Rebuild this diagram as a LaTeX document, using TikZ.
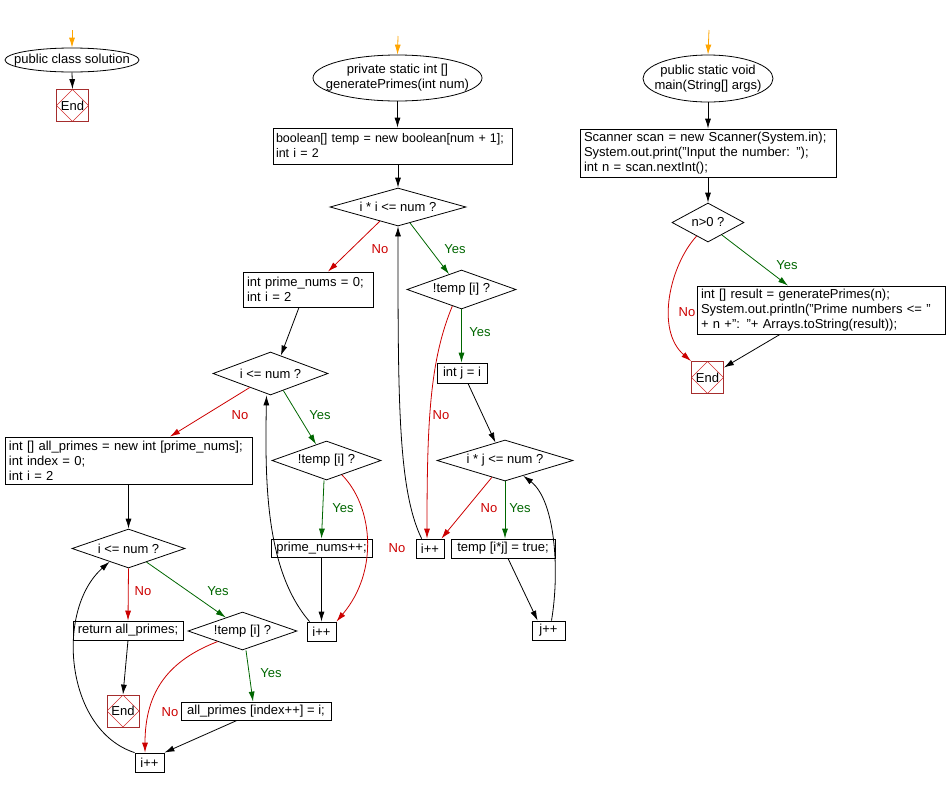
\documentclass[tikz,border=0pt]{standalone}
\usepackage{fontspec}
\setmainfont{Liberation Sans}
\usetikzlibrary{shapes.geometric,arrows.meta}
\definecolor{startorange}{RGB}{255,165,0}
\definecolor{nored}{RGB}{204,0,0}
\definecolor{yesgreen}{RGB}{0,102,0}
\definecolor{endbrown}{RGB}{165,45,45}
\definecolor{endred}{RGB}{210,45,45}
\begin{document}
\begin{tikzpicture}[x=1pt,y=-1pt,font=\fontsize{13}{15}\selectfont,
  >={Latex[length=10pt,width=6pt]},
  flow/.style={->,line width=0.8pt},
  noarrow/.style={flow,nored},
  yesarrow/.style={flow,yesgreen},
  entry/.style={flow,startorange},
  nolabel/.style={text=nored,inner sep=0pt},
  yeslabel/.style={text=yesgreen,inner sep=0pt},
  box/.style={draw,line width=0.8pt,rectangle,inner xsep=4pt,inner ysep=1pt,align=left},
  onebox/.style={draw,line width=0.8pt,rectangle,inner xsep=2pt,inner ysep=1pt},
  dec/.style={draw,line width=0.8pt,diamond,aspect=3.2,inner sep=0pt},
  method/.style={draw,line width=0.8pt,ellipse,inner xsep=-12pt,inner ysep=0pt,align=center},
  endbox/.style={draw=endbrown,line width=0.8pt,minimum size=32pt,inner sep=0pt,
    path picture={\draw[endred,line width=0.6pt] (path picture bounding box.north) -- (path picture bounding box.east)
      -- (path picture bounding box.south) -- (path picture bounding box.west) -- cycle;}}]
\useasboundingbox (0,0) rectangle (948,788);

\coordinate (s1) at (72,30);
\coordinate (s2) at (398,36);
\coordinate (s3) at (709,30);

\node[method,minimum width=134pt,minimum height=24pt] (cls) at (72,60) {public class solution};
\node[endbox] (end1) at (72.5,105.5) {End};

\node[method,minimum width=169pt,minimum height=46pt] (gen) at (397.5,78) {private static int []\\generatePrimes(int num)};
\node[box,inner xsep=3pt,text width=233pt,minimum height=36pt,font=\fontsize{12.5}{15}\selectfont] (init) at (392.5,146) {boolean[] temp = new boolean[num + 1];\\int i = 2};
\node[dec,minimum width=136pt,minimum height=38pt] (outer) at (398,207) {i * i <= num ?};
\node[box,text width=122pt,minimum height=35pt] (pinit) at (308,289.5) {int prime\_nums = 0;\\int i = 2};
\node[dec,minimum width=109pt,minimum height=39pt] (sieve) at (461.5,289.5) {!temp [i] ?};
\node[onebox,minimum width=50pt,minimum height=20pt] (jinit) at (462,373) {int j = i};
\node[dec,minimum width=115pt,minimum height=43pt] (cnt) at (270.5,373.5) {i <= num ?};
\node[dec,minimum width=109pt,minimum height=39pt] (chk) at (326.5,460.5) {!temp [i] ?};
\node[onebox,minimum width=101pt,minimum height=18pt] (pcount) at (321.5,548) {prime\_nums++;};
\node[onebox,minimum width=29pt,minimum height=19pt] (iinc2) at (321.5,631.5) {i++};
\node[dec,minimum width=136pt,minimum height=41pt] (inner) at (505,460.5) {i * j <= num ?};
\node[onebox,minimum width=28pt,minimum height=19pt] (iinc1) at (430,548.5) {i++};
\node[onebox,minimum width=104pt,minimum height=19pt] (mark) at (503,548.5) {temp [i*j] = true;};
\node[onebox,minimum width=33pt,minimum height=19pt] (jinc) at (548.5,630.5) {j++};

\node[box,text width=239pt,minimum height=47pt] (collect) at (128.5,460.5) {int [] all\_primes = new int [prime\_nums];\\int index = 0;\\int i = 2};
\node[dec,minimum width=113pt,minimum height=39pt] (loop3) at (128.5,548.5) {i <= num ?};
\node[onebox,minimum width=110pt,minimum height=19pt] (ret) at (128,630.5) {return all\_primes;};
\node[endbox] (end2) at (123,711) {End};
\node[dec,minimum width=109pt,minimum height=38pt] (chk3) at (242.5,631) {!temp [i] ?};
\node[onebox,minimum width=150pt,minimum height=18pt] (store) at (256,711) {all\_primes [index++] = i;};
\node[onebox,minimum width=29pt,minimum height=19pt] (iinc3) at (149.5,762.5) {i++};

\node[method,minimum width=130pt,minimum height=47pt] (mainm) at (708,78.5) {public static void\\main(String[] args)};
\node[box,text width=248pt,minimum height=48pt] (scan) at (708,153) {Scanner scan = new Scanner(System.in);\\System.out.print("Input the number: ");\\int n = scan.nextInt();};
\node[dec,aspect=1.8,minimum width=72pt,minimum height=39pt] (test) at (708,222.5) {n>0 ?};
\node[box,text width=240pt,minimum height=48pt] (result) at (821,310) {int [] result = generatePrimes(n);\\System.out.println("Prime numbers <= "\\+ n +": "+ Arrays.toString(result));};
\node[endbox] (end3) at (707.5,377.5) {End};

\node[nolabel] (no1) at (380,249) {No};
\node[yeslabel] (yes1) at (455,249) {Yes};
\node[yeslabel] (yes2) at (480,332) {Yes};
\node[nolabel] (no2) at (441,415) {No};
\node[nolabel] (no3) at (240,415) {No};
\node[yeslabel] (yes3) at (320,415) {Yes};
\node[nolabel] (no4) at (489,508) {No};
\node[yeslabel] (yes4) at (520,508) {Yes};
\node[yeslabel] (yes5) at (343,508) {Yes};
\node[nolabel] (no5) at (397,548) {No};
\node[nolabel] (no6) at (143,591) {No};
\node[yeslabel] (yes6) at (218,591) {Yes};
\node[yeslabel] (yes7) at (271,673) {Yes};
\node[nolabel] (no7) at (170,712) {No};
\node[yeslabel] (yes8) at (787,265) {Yes};
\node[nolabel] (no8) at (687,312) {No};

\draw[entry] (s1) -- (cls.north);
\draw[flow] (cls.south) -- (end1.north);

\draw[entry] (s2) -- (gen.north);
\draw[flow] (gen.south) -- (gen.south |- init.north);
\draw[flow] (outer.north |- init.south) -- (outer.north);
\draw[noarrow] (outer.218) -- ([xshift=20pt]pinit.north);
\draw[yesarrow] (outer.307) -- (sieve.129);
\draw[flow] ([xshift=-9pt]pinit.south) -- (cnt.60);
\draw[noarrow] (cnt.214) -- ([xshift=41.5pt]collect.north);
\draw[yesarrow] (cnt.307) -- (chk.123);
\draw[yesarrow] ([xshift=-2.5pt]chk.south) -- (pcount.north);
\draw[noarrow] (chk.317) .. controls (372,505) and (380,570) .. (iinc2.north east);
\draw[flow] (pcount.south) -- (iinc2.north);
\draw[flow] ([xshift=3pt]iinc2.north west) .. controls (265,570) and (265,480) .. ([xshift=-4pt]cnt.south);
\draw[yesarrow] (sieve.south) -- (sieve.south |- jinit.north);
\draw[noarrow] (sieve.241) .. controls (430,360) and (427,420) .. ([xshift=-3pt]iinc1.north);
\draw[flow] ([xshift=6pt]jinit.south) -- (inner.118);
\draw[noarrow] (inner.232) -- ([xshift=-3pt]iinc1.north east);
\draw[yesarrow] (inner.south) -- (inner.south |- mark.north);
\draw[flow] ([xshift=5pt]mark.south) -- ([xshift=6pt]jinc.north west);
\draw[flow] ([xshift=3pt]jinc.north) .. controls (560,570) and (555,500) .. (inner.320);
\draw[flow] ([xshift=6pt]iinc1.north west) .. controls (398,490) and (398,400) .. (outer.south);

\draw[flow] (collect.south) -- (loop3.north);
\draw[noarrow] (loop3.south) -- (ret.north);
\draw[yesarrow] (loop3.323) -- (chk3.141);
\draw[flow] (ret.south) -- (end2.north);
\draw[yesarrow] ([xshift=3.5pt]chk3.south) -- ([xshift=-3pt]store.north);
\draw[noarrow] (chk3.203) .. controls (170,660) and (145,690) .. ([xshift=-4.5pt]iinc3.north);
\draw[flow] ([xshift=-19pt]store.south) -- (iinc3.north east);
\draw[flow] (iinc3.north west) .. controls (65,730) and (55,610) .. (loop3.215);

\draw[entry] (s3) -- (mainm.north);
\draw[flow] (mainm.south) -- (mainm.south |- scan.north);
\draw[flow] (test.north |- scan.south) -- (test.north);
\draw[yesarrow] (test.318) -- ([xshift=-33pt]result.north);
\draw[noarrow] (test.230) .. controls (670,265) and (655,330) .. (end3.north west);
\draw[flow] ([xshift=-41pt]result.south) -- ([yshift=10pt]end3.east);
\end{tikzpicture}
\end{document}
